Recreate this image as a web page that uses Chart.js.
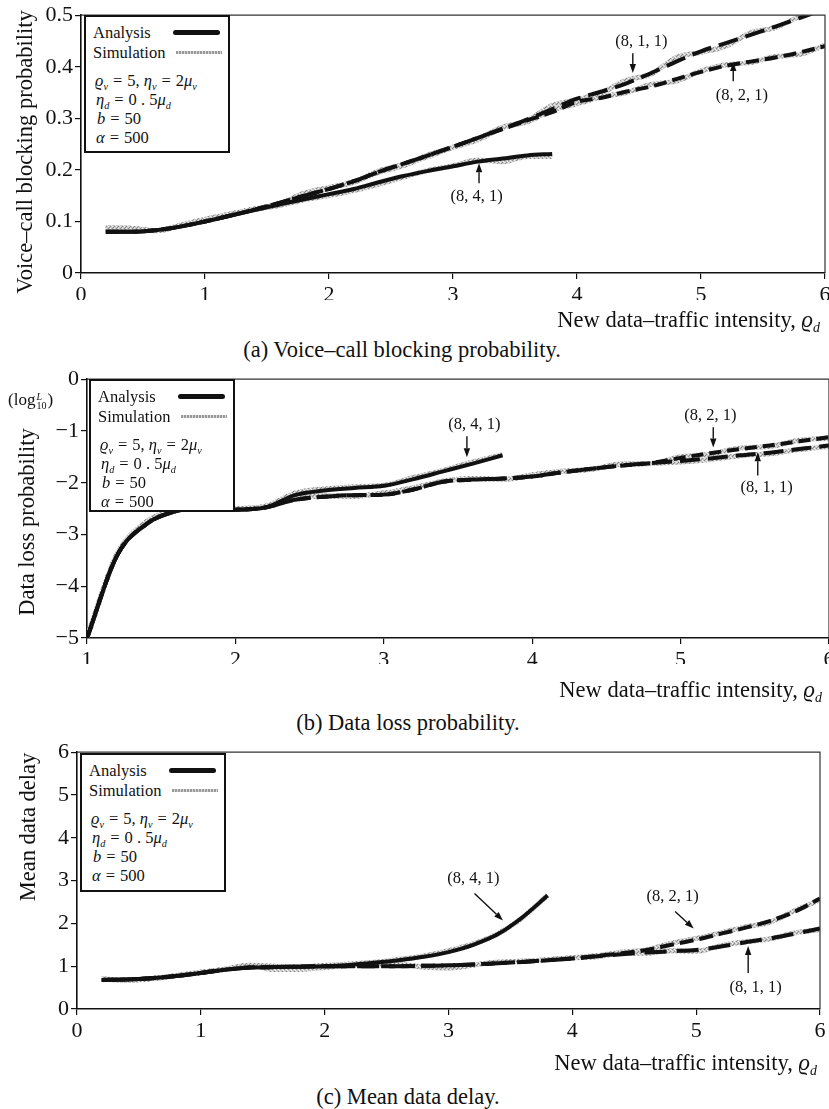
<!DOCTYPE html>
<html><head><meta charset="utf-8">
<script src="https://cdn.jsdelivr.net/npm/chart.js@4.4.1/dist/chart.umd.min.js"></script>
<style>
html,body{margin:0;padding:0;background:#fff;}
body{width:829px;height:1109px;overflow:hidden;position:relative;font-family:"Liberation Serif","Times New Roman",serif;color:#111;}
.cv{position:absolute;left:0;width:845px;}
.t{position:absolute;white-space:nowrap;font-size:22.5px;line-height:26px;}
.cap{transform:translateX(-50%);}
.yt{position:absolute;white-space:nowrap;font-size:22.5px;line-height:26px;transform:translate(-50%,-50%) rotate(-90deg);}
.leg{position:absolute;border:2px solid #111;box-sizing:border-box;background:#fff;}
.leg .r{position:absolute;white-space:nowrap;font-size:16.5px;line-height:20px;}
.eq{margin:0 5px;}
.sub{font-size:0.62em;vertical-align:-0.35em;line-height:0;font-style:italic;}
.bar{position:absolute;height:5px;border-radius:3px;background:#111;}
.gbar{position:absolute;height:3px;background:repeating-linear-gradient(90deg,#999 0 2px,#dadada 2px 3px);}
.logl{position:absolute;font-size:17px;line-height:20px;white-space:nowrap;}
.stk{display:inline-block;vertical-align:middle;font-size:10px;line-height:9px;text-align:left;margin:0 1px;}
</style></head>
<body>
<script>
// ---------- data ----------
const rhoA = [0.2,0.4,0.6,0.8,1.0,1.2,1.4,1.6,1.8,2.0,2.2,2.4,2.6,2.8,3.0,3.2,3.4,3.6,3.8,4.0,4.2,4.4,4.6,4.8,5.0,5.2,5.4,5.6,5.8,6.0];
const rhoB = [1.0,1.2,1.4,1.6,1.8,2.0,2.2,2.4,2.6,2.8,3.0,3.2,3.4,3.6,3.8,4.0,4.2,4.4,4.6,4.8,5.0,5.2,5.4,5.6,5.8,6.0];

// (a) voice-call blocking probability
const blockAna841 = [0.080,0.080,0.083,0.090,0.100,0.111,0.122,0.133,0.143,0.153,0.163,0.176,0.188,0.198,0.207,0.216,0.222,0.228,0.231];
const blockAna811 = [0.080,0.080,0.083,0.090,0.100,0.111,0.123,0.136,0.150,0.163,0.178,0.196,0.212,0.228,0.245,0.262,0.280,0.298,0.318,0.338,0.352,0.368,0.388,0.410,0.430,0.446,0.462,0.478,0.495,0.512];
const blockAna821 = [0.080,0.080,0.083,0.090,0.100,0.111,0.123,0.136,0.150,0.163,0.178,0.196,0.212,0.228,0.245,0.262,0.279,0.296,0.312,0.332,0.340,0.352,0.362,0.376,0.390,0.402,0.410,0.418,0.428,0.440];
const blockSim841 = [0.088,0.087,0.082,0.092,0.104,0.114,0.123,0.131,0.142,0.150,0.160,0.172,0.186,0.199,0.208,0.219,0.216,0.226,0.226];
const blockSim811 = [0.088,0.087,0.082,0.092,0.104,0.114,0.124,0.134,0.155,0.166,0.176,0.198,0.210,0.226,0.244,0.258,0.282,0.296,0.325,0.336,0.350,0.374,0.386,0.418,0.428,0.440,0.466,0.476,0.498,0.512];
const blockSim821 = [0.088,0.087,0.082,0.092,0.104,0.114,0.124,0.134,0.152,0.165,0.177,0.195,0.208,0.229,0.243,0.260,0.283,0.293,0.316,0.328,0.342,0.350,0.366,0.372,0.392,0.404,0.408,0.420,0.424,0.442];

// (b) data loss probability (log10)
const lossAna841 = [-5.0,-3.42,-2.80,-2.55,-2.48,-2.52,-2.48,-2.24,-2.15,-2.10,-2.06,-1.93,-1.78,-1.63,-1.47];
const lossAna821 = [-5.0,-3.42,-2.80,-2.55,-2.48,-2.52,-2.48,-2.33,-2.27,-2.24,-2.23,-2.13,-1.98,-1.94,-1.92,-1.88,-1.80,-1.73,-1.67,-1.62,-1.52,-1.43,-1.35,-1.28,-1.20,-1.12];
const lossAna811 = [-5.0,-3.42,-2.80,-2.55,-2.48,-2.52,-2.48,-2.33,-2.27,-2.24,-2.23,-2.13,-1.98,-1.94,-1.92,-1.88,-1.80,-1.73,-1.67,-1.62,-1.58,-1.53,-1.47,-1.42,-1.35,-1.28];
const lossSim841 = [-5.0,-3.40,-2.76,-2.53,-2.46,-2.50,-2.46,-2.20,-2.12,-2.08,-2.05,-1.90,-1.76,-1.60,-1.46];
const lossSim821 = [-5.0,-3.40,-2.76,-2.53,-2.46,-2.50,-2.46,-2.30,-2.25,-2.26,-2.20,-2.10,-1.97,-1.92,-1.94,-1.85,-1.78,-1.74,-1.64,-1.63,-1.50,-1.45,-1.33,-1.30,-1.18,-1.14];
const lossSim811 = [-5.0,-3.40,-2.76,-2.53,-2.46,-2.50,-2.46,-2.30,-2.25,-2.26,-2.20,-2.10,-1.97,-1.92,-1.94,-1.85,-1.78,-1.74,-1.64,-1.63,-1.60,-1.55,-1.48,-1.44,-1.36,-1.30];

// (c) mean data delay
const delayAna841 = [0.68,0.69,0.72,0.77,0.84,0.92,0.97,0.98,0.99,1.00,1.03,1.08,1.14,1.22,1.33,1.50,1.75,2.15,2.65];
const delayAna821 = [0.68,0.69,0.72,0.77,0.84,0.92,0.97,0.98,0.99,1.00,1.00,1.00,1.00,1.01,1.02,1.04,1.07,1.10,1.14,1.18,1.24,1.30,1.38,1.50,1.62,1.76,1.90,2.06,2.28,2.58];
const delayAna811 = [0.68,0.69,0.72,0.77,0.84,0.92,0.97,0.98,0.99,1.00,1.00,1.00,1.00,1.01,1.02,1.04,1.07,1.10,1.14,1.18,1.23,1.28,1.32,1.35,1.38,1.46,1.56,1.65,1.76,1.88];
const delaySim841 = [0.70,0.67,0.71,0.78,0.86,0.93,1.02,1.00,0.98,1.02,1.05,1.09,1.16,1.24,1.36,1.52,1.76,2.14,2.66];
const delaySim821 = [0.70,0.67,0.71,0.78,0.86,0.93,1.02,0.92,0.93,0.97,1.02,1.03,1.04,0.98,0.96,1.03,1.09,1.12,1.15,1.20,1.22,1.33,1.38,1.54,1.65,1.78,1.92,2.03,2.30,2.55];
const delaySim811 = [0.70,0.67,0.71,0.78,0.86,0.93,1.02,0.92,0.93,0.97,1.02,1.03,1.04,0.98,0.96,1.03,1.09,1.12,1.15,1.20,1.25,1.31,1.30,1.36,1.35,1.48,1.57,1.64,1.78,1.86];

// tick labels
const xTicksA = ['0','1','2','3','4','5','6'];
const xTicksB = ['1','2','3','4','5','6'];
const yTicksA = ['0','0.1','0.2','0.3','0.4','0.5'];
const yTicksB = ['\u22125','\u22124','\u22123','\u22122','\u22121','0'];
const yTicksC = ['0','1','2','3','4','5','6'];

// annotations: [label, labelX, labelY, arrowX1, arrowY1, arrowX2, arrowY2] (data units)
const annA = [['(8, 1, 1)',4.52,0.448,4.45,0.426,4.45,0.388],['(8, 2, 1)',5.33,0.343,5.26,0.372,5.26,0.409],['(8, 4, 1)',3.19,0.149,3.21,0.174,3.21,0.213]];
const annB = [['(8, 4, 1)',3.61,-0.87,3.56,-1.10,3.56,-1.51],['(8, 2, 1)',5.20,-0.70,5.22,-0.93,5.22,-1.32],['(8, 1, 1)',5.58,-2.09,5.52,-1.86,5.52,-1.41]];
const annC = [['(8, 4, 1)',3.20,3.05,3.21,2.70,3.44,2.07],['(8, 2, 1)',4.81,2.63,4.83,2.28,4.98,1.88],['(8, 1, 1)',5.48,0.49,5.42,0.84,5.42,1.47]];

// ---------- drawing ----------
const FONT = '"Liberation Serif","Times New Roman",serif';
const pc = document.createElement('canvas'); pc.width = 4; pc.height = 4;
const pctx = pc.getContext('2d');
pctx.fillStyle = '#c6c6c6'; pctx.fillRect(0,0,4,4);
pctx.fillStyle = '#8c8c8c'; pctx.fillRect(0,0,1,1); pctx.fillRect(2,2,1,1); pctx.fillRect(1,3,1,1);
pctx.fillStyle = '#eeeeee'; pctx.fillRect(2,0,1,1); pctx.fillRect(0,2,1,1); pctx.fillRect(3,1,1,1);
const grayPat = pctx.createPattern(pc, 'repeat');

function pts(xs, ys){ return ys.map((y,i)=>({x:xs[i], y:y})); }

const framePlugin = {
  id:'frame',
  afterDraw(chart){
    const {ctx, chartArea:a} = chart;
    ctx.save(); ctx.strokeStyle = '#333'; ctx.lineWidth = 1.2;
    ctx.beginPath(); ctx.moveTo(a.left, a.top); ctx.lineTo(a.right, a.top); ctx.lineTo(a.right, a.bottom); ctx.stroke();
    ctx.restore();
  }
};
const annPlugin = {
  id:'annot',
  afterDatasetsDraw(chart, args, opts){
    const {ctx} = chart; const xs = chart.scales.x, ys = chart.scales.y;
    ctx.save();
    ctx.fillStyle = '#111'; ctx.strokeStyle = '#111';
    ctx.font = '16.5px ' + FONT; ctx.textAlign = 'center'; ctx.textBaseline = 'middle';
    (opts.items||[]).forEach(it=>{
      ctx.fillText(it[0], xs.getPixelForValue(it[1]), ys.getPixelForValue(it[2]));
      const x1 = xs.getPixelForValue(it[3]), y1 = ys.getPixelForValue(it[4]);
      const x2 = xs.getPixelForValue(it[5]), y2 = ys.getPixelForValue(it[6]);
      const ang = Math.atan2(y2-y1, x2-x1), hl = 9, hw = 3.2;
      const bx = x2 - hl*Math.cos(ang), by = y2 - hl*Math.sin(ang);
      ctx.lineWidth = 1.4; ctx.beginPath(); ctx.moveTo(x1,y1); ctx.lineTo(bx,by); ctx.stroke();
      ctx.beginPath(); ctx.moveTo(x2,y2);
      ctx.lineTo(bx + hw*Math.sin(ang), by - hw*Math.cos(ang));
      ctx.lineTo(bx - hw*Math.sin(ang), by + hw*Math.cos(ang));
      ctx.closePath(); ctx.fill();
    });
    ctx.restore();
  }
};

function makeChart(cfg){
  const wrap = document.createElement('div');
  wrap.className = 'cv'; wrap.style.top = cfg.top + 'px'; wrap.style.height = cfg.h + 'px';
  const cv = document.createElement('canvas'); wrap.appendChild(cv); document.body.appendChild(wrap);
  const ds = [];
  cfg.series.forEach(s=>{
    ds.push({data:pts(s.x, s.ana), borderColor:'#111', borderWidth:4, borderDash:s.dash, borderCapStyle:'butt',
      pointRadius:0, cubicInterpolationMode:'monotone', order:1});
  });
  cfg.series.forEach(s=>{
    ds.push({data:pts(s.x, s.sim), borderColor:grayPat, borderWidth:5, pointRadius:0,
      cubicInterpolationMode:'monotone', order:2});
  });
  new Chart(cv, {
    type:'line',
    data:{datasets:ds},
    options:{
      responsive:true, maintainAspectRatio:false, animation:false, events:[],
      layout:{padding:{top:cfg.padTop, right:cfg.padRight, bottom:cfg.padBottom, left:0}},
      plugins:{legend:{display:false}, tooltip:{enabled:false}, annot:{items:cfg.ann}},
      scales:{
        x:{type:'linear', min:cfg.xmin, max:cfg.xmax,
           ticks:{stepSize:1, color:'#111', font:{family:FONT, size:22}, padding:3, maxRotation:0,
             callback:(v)=>{const i = Math.round(v - cfg.xmin); return cfg.xlab[i] ?? '';}},
           grid:{drawOnChartArea:false, tickLength:6, color:'#111', lineWidth:1.2},
           border:{color:'#111', width:1.6},
           afterFit:(s)=>{s.height = cfg.xh;}},
        y:{type:'linear', min:cfg.ymin, max:cfg.ymax,
           ticks:{stepSize:cfg.ystep, color:'#111', font:{family:FONT, size:22}, padding:2,
             callback:(v)=>{const i = Math.round((v - cfg.ymin)/cfg.ystep); return cfg.ylab[i] ?? '';}},
           grid:{drawOnChartArea:false, tickLength:6, color:'#111', lineWidth:1.2},
           border:{color:'#111', width:1.6},
           afterFit:(s)=>{s.width = cfg.yw;}}
      }
    },
    plugins:[framePlugin, annPlugin]
  });
}

const rhoA4 = rhoA.slice(0,19), rhoB4 = rhoB.slice(0,15);
makeChart({top:0, h:320, padTop:15, padRight:20, padBottom:20, xh:27, yw:81,
  xmin:0, xmax:6, ymin:0, ymax:0.5, ystep:0.1, xlab:xTicksA, ylab:yTicksA, ann:annA,
  series:[{x:rhoA4, ana:blockAna841, sim:blockSim841, dash:[]},
          {x:rhoA, ana:blockAna811, sim:blockSim811, dash:[20,8]},
          {x:rhoA, ana:blockAna821, sim:blockSim821, dash:[13,6]}]});
makeChart({top:364, h:320, padTop:15, padRight:16, padBottom:20, xh:26, yw:87,
  xmin:1, xmax:6, ymin:-5, ymax:0, ystep:1, xlab:xTicksB, ylab:yTicksB, ann:annB,
  series:[{x:rhoB4, ana:lossAna841, sim:lossSim841, dash:[]},
          {x:rhoB, ana:lossAna811, sim:lossSim811, dash:[20,8]},
          {x:rhoB, ana:lossAna821, sim:lossSim821, dash:[12,6]}]});
makeChart({top:737, h:320, padTop:15, padRight:25, padBottom:20, xh:28, yw:77,
  xmin:0, xmax:6, ymin:0, ymax:6, ystep:1, xlab:xTicksA, ylab:yTicksC, ann:annC,
  series:[{x:rhoA4, ana:delayAna841, sim:delaySim841, dash:[]},
          {x:rhoA, ana:delayAna811, sim:delaySim811, dash:[22,10]},
          {x:rhoA, ana:delayAna821, sim:delaySim821, dash:[14,6]}]});

// ---------- text ----------
function el(cls, html, style){ const d = document.createElement('div'); d.className = cls; d.innerHTML = html; Object.assign(d.style, style); document.body.appendChild(d); return d; }
const xTitle = 'New data\u2013traffic intensity, <i>\u03f1</i><span class="sub">d</span>';
el('t', xTitle, {right:'9px', top:'307px'});
el('t', xTitle, {right:'7px', top:'677px'});
el('t', xTitle, {right:'12px', top:'1050px'});
el('t cap', '(a) Voice\u2013call blocking probability.', {left:'402px', top:'337px'});
el('t cap', '(b) Data loss probability.', {left:'408px', top:'710px'});
el('t cap', '(c) Mean data delay.', {left:'408px', top:'1084px'});
el('yt', 'Voice\u2013call blocking probability', {left:'25px', top:'152px'});
el('yt', 'Data loss probability', {left:'27px', top:'522px'});
el('yt', 'Mean data delay', {left:'28px', top:'827px'});
el('logl', '(log<span class="stk"><i>L</i><br>10</span>)', {left:'8px', top:'390px'});

function legend(left, top, h){
  const b = el('leg', '', {left:left+'px', top:top+'px', width:'146px', height:h+'px'});
  const EQ = '<span class="eq">=</span>';
  const rows = [
    ['Analysis', 9, 18], ['Simulation', 9, 38],
    ['<i>\u03f1</i><span class="sub">v</span>'+EQ+'5, <i>\u03b7</i><span class="sub">v</span>'+EQ+'2<i>\u03bc</i><span class="sub">v</span>', 11, 66],
    ['<i>\u03b7</i><span class="sub">d</span>'+EQ+'0 . 5<i>\u03bc</i><span class="sub">d</span>', 12, 85],
    ['<i>b</i>'+EQ+'50', 13, 104], ['<i>\u03b1</i>'+EQ+'500', 12, 123]];
  rows.forEach(r=>{
    const d = document.createElement('div'); d.className = 'r'; d.innerHTML = r[0];
    d.style.left = (r[1]-2) + 'px'; d.style.top = (r[2]-12) + 'px'; b.appendChild(d);
  });
  const a = document.createElement('div'); a.className = 'bar'; Object.assign(a.style, {left:'87px', width:'47px', top:(18-2-3)+'px'}); b.appendChild(a);
  const g = document.createElement('div'); g.className = 'gbar'; Object.assign(g.style, {left:'90px', width:'46px', top:(38-2-2)+'px'}); b.appendChild(g);
}
legend(84, 15, 138);
legend(89, 379, 133);
legend(80, 753, 139);
</script>
</body></html>
